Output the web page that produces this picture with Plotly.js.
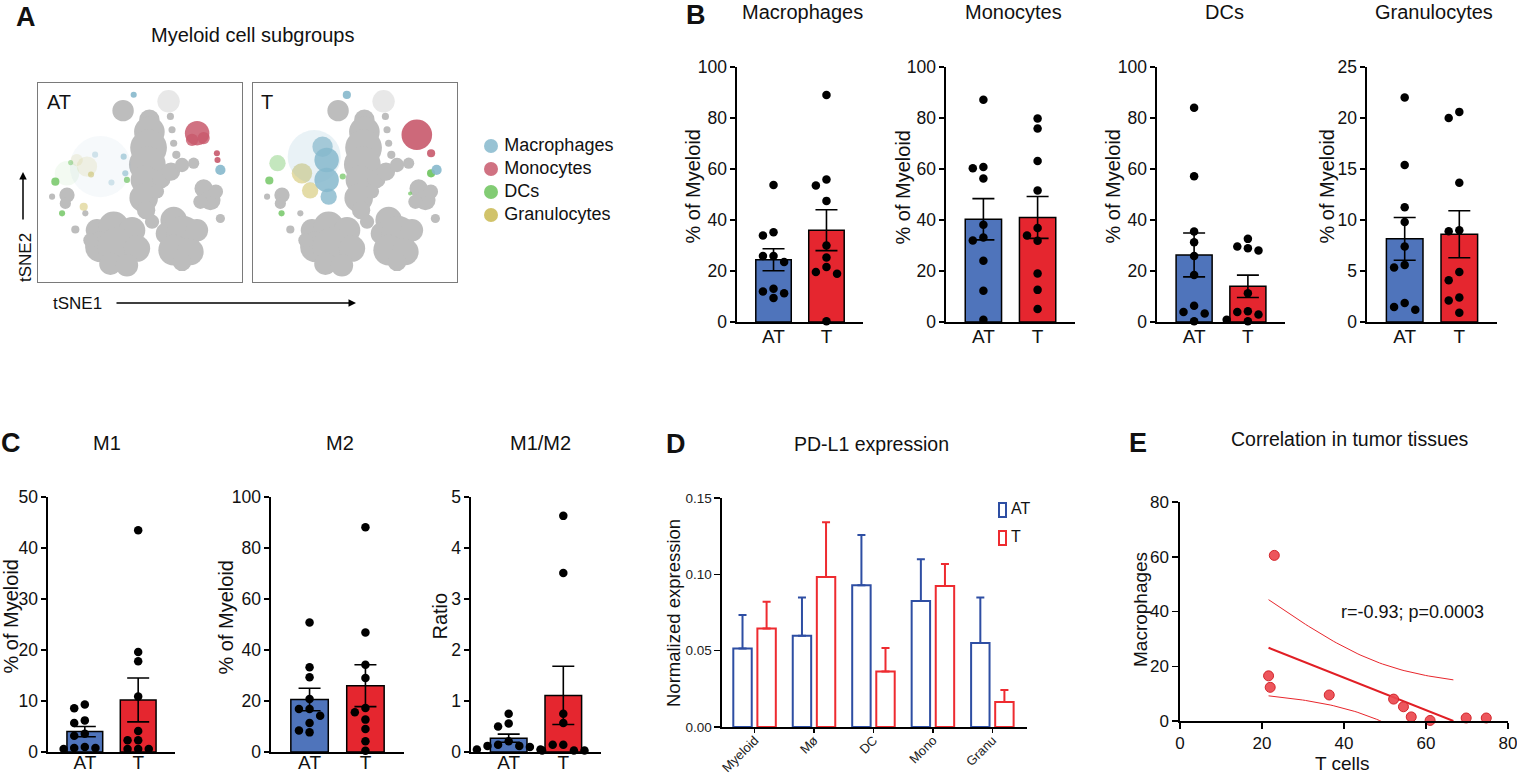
<!DOCTYPE html>
<html><head><meta charset="utf-8">
<script src="https://cdn.plot.ly/plotly-3.0.1.min.js"></script>
<style>html,body{margin:0;padding:0;background:#fff}#chart{width:1517px;height:775px}</style>
</head><body><div id="chart"></div>
<script>
// ---------------- DATA ----------------
const groups = ['AT', 'T'];
// Panel B
const macroAT = [53.7, 35.2, 33.9, 25.9, 25.9, 23.5, 13.0, 12.0, 11.3, 9.4];
const macroT = [89.0, 55.9, 53.5, 47.5, 30.0, 25.3, 21.6, 19.6, 18.9, 0.3];
const macroMean = [24.4, 36.0];
const macroSem = [4.3, 8.0];
const monoAT = [87.2, 60.8, 60.3, 56.3, 38.1, 33.1, 32.0, 24.0, 12.3, 0.9];
const monoT = [79.8, 75.9, 63.1, 51.6, 36.9, 33.9, 31.9, 19.0, 12.6, 5.1];
const monoMean = [40.3, 41.0];
const monoSem = [8.1, 8.2];
const dcAT = [84.0, 57.2, 35.5, 31.3, 25.9, 18.4, 6.4, 3.9, 3.3, 0.3];
const dcT = [32.6, 29.6, 28.9, 28.0, 11.3, 4.2, 3.9, 2.9, 0.9, 0.3];
const dcMean = [26.3, 14.0];
const dcSem = [8.6, 4.4];
const granAT = [22.0, 15.4, 11.25, 9.8, 7.4, 5.6, 5.35, 1.86, 1.47, 1.2];
const granT = [20.6, 20.0, 13.65, 9.0, 8.9, 4.9, 4.1, 2.4, 2.1, 0.9];
const granMean = [8.15, 8.6];
const granSem = [2.1, 2.3];
// Panel C
const m1AT = [9.3, 8.6, 6.2, 5.7, 3.6, 3.2, 1.0, 0.8, 0.8, 0.6];
const m1T = [43.5, 19.6, 17.8, 10.9, 4.1, 2.3, 2.3, 0.6, 0.6, 0.6];
const m1Mean = [4.0, 10.2];
const m1Sem = [1.0, 4.3];
const m2AT = [50.8, 33.2, 29.3, 20.8, 16.9, 16.9, 14.2, 11.4, 8.4, 7.7];
const m2T = [88.1, 46.9, 34.2, 29.0, 17.3, 15.6, 12.7, 9.0, 4.2, 0.5];
const m2Mean = [20.6, 26.0];
const m2Sem = [4.4, 8.2];
const ratioAT = [0.75, 0.56, 0.50, 0.21, 0.14, 0.12, 0.12, 0.10, 0.05, 0.05];
const ratioT = [4.63, 3.51, 0.75, 0.57, 0.14, 0.14, 0.03, 0.03, 0.03];
const ratioMean = [0.27, 1.11];
const ratioSem = [0.08, 0.57];
// Panel D
const pdCats = ['Myeloid', 'Mø', 'DC', 'Mono', 'Granu'];
const pdAT = [0.0515, 0.0598, 0.0928, 0.0826, 0.0550];
const pdATerr = [0.0218, 0.0250, 0.0329, 0.0272, 0.0298];
const pdT = [0.0646, 0.0983, 0.0363, 0.0924, 0.0163];
const pdTerr = [0.0174, 0.0358, 0.0154, 0.0143, 0.0080];
// Panel E
const tCells = [23.0, 21.6, 22.0, 36.4, 52.1, 54.5, 56.4, 61.0, 69.8, 74.7];
const macsE = [60.5, 16.5, 12.3, 9.5, 8.0, 5.2, 1.5, 0.2, 1.1, 1.1];
// Panel A (tSNE map, approximate islands: [tSNE1, tSNE2, diameter, density])
const subgroupNames = ['Macrophages', 'Monocytes', 'DCs', 'Granulocytes'];
const tsneGray = [
 [41.7,86.1,10.5,1],[64,90.8,11,0.35],
 [64.9,83.2,3.5,1],[65.7,76.5,3.5,1],[66.5,69.7,3.5,1],[67.8,63.9,4,1],
 [54.6,81.5,10,1],[54.6,75.5,15,1],[54.2,67.4,18,1],[53.6,59,18,1],[52.4,51.3,14,1],
 [51.8,42.2,14,1],[53.0,36.1,9,1],
 [60.5,51.8,9,1],[65.2,55.5,9,1],[70.6,58.8,7,1],[58.3,45.5,7,1],
 [76.3,59.7,5.5,1],
 [81.2,47,9,1],[84.5,41.2,10,1],[87.2,45.4,7,1],[79.6,40.3,7,1],
 [89.4,31.9,4.5,1],
 [28.9,26,11,1],[37.1,27.7,15,1],[46.1,26,13,1],[30.6,17.6,15,1],[38.7,17.6,19,1],[48.5,16.8,13,1],[35.5,9.2,11,1],[43.6,8.4,11,1],[25.7,21,7,1],
 [66.5,31.1,13,1],[63.2,24.4,11,1],[71.4,24.4,17,1],[77.9,26,11,1],[66.5,16,15,1],[74.7,15.1,13,1],[70.6,10.1,9,1],
 [55.9,30.3,7,1],
 [14.2,43.7,7.5,1],[13.4,39.5,5.5,1],[6.9,42.9,3,1],[18.3,26.4,4,1],[23.2,34.5,3,1]
];
const atMacro = [[30.6,58,30,0.08],[89.4,56.3,5,0.9],[46.9,94.1,3,0.9],[42,63,3,0.6],[42.8,54.6,3,0.6],[36,50,3,0.35],[28,64,3,0.35]];
const atMono = [[78,74.8,12,0.85],[75.5,71.4,6,0.8],[81.2,72.3,6,0.8],[87.7,64.7,3,0.9],[88,61.3,3,0.9]];
const atDC = [[14.2,54.6,12,0.08],[8.5,50.4,4,0.8],[11.8,34.5,3,0.8],[43.6,51.3,3,0.7],[16,60,2.5,0.5]];
const atGran = [[24,58,10,0.15],[22.4,37.8,4,0.45],[19,61.3,6,0.15],[26,54,3,0.5]];
const tMacro = [[30,63,26,0.18],[34.1,68,10,0.7],[36.1,61.3,12,0.85],[36.1,51.3,12,0.85],[37.1,42.9,8,0.8],[46,94,4,0.9],[90,56.3,5,0.9]];
const tMono = [[80.3,74,15,0.9],[87.3,64.7,4,0.9]];
const tDC = [[12,59.7,8,0.4],[8,51,4,0.8],[14,34.5,3,0.8],[87.3,54.6,4,0.9],[44,53,3,0.7],[77,44.5,2,0.7]];
const tGran = [[24,54.6,10,0.5],[28,46,8,0.5]];

// ---------------- STYLE / LAYOUT ----------------
const W = 1517, H = 775;
const fx = p => p / W, fy = p => 1 - p / H;
const FONT = 'Liberation Sans, Arial, Helvetica, sans-serif';
const barColors = ['#4f74bb', '#e5262f'];
const subColors = ['#86b8cc', '#c8596c', '#6cc35c', '#c9b950'];
const grayC = '#bdbdbd';
const blueD = '#2e4ea3', redD = '#ee2b30';

const traces = [];
const layout = {
  width: W, height: H, margin: {l: 0, r: 0, t: 0, b: 0},
  paper_bgcolor: '#fff', plot_bgcolor: 'rgba(0,0,0,0)',
  showlegend: false, barmode: 'overlay',
  font: {family: FONT, color: '#111'},
  annotations: []
};
function ann(text, x, y, size, opts) {
  layout.annotations.push(Object.assign({
    text: text, x: fx(x), y: fy(y), xref: 'paper', yref: 'paper',
    showarrow: false, xanchor: 'center', yanchor: 'middle',
    font: {family: FONT, size: size, color: '#111'}
  }, opts || {}));
}

// ---------- Panel A ----------
function tsneBox(n, x0, x1, sets, colors) {
  const xk = 'xaxis' + n, yk = 'yaxis' + n, xa = 'x' + n, ya = 'y' + n;
  layout[xk] = {domain: [fx(x0), fx(x1)], range: [0, 100], showline: true, mirror: true,
    linecolor: '#7a7a7a', linewidth: 1.2, showticklabels: false, ticks: '', showgrid: false, zeroline: false, anchor: ya, fixedrange: true};
  layout[yk] = {domain: [fy(282), fy(83)], range: [0, 100], showline: true, mirror: true,
    linecolor: '#7a7a7a', linewidth: 1.2, showticklabels: false, ticks: '', showgrid: false, zeroline: false, anchor: xa, fixedrange: true};
  const pxPerUnit = (x1 - x0) / 100;
  sets.forEach((s, k) => {
    traces.push({type: 'scatter', mode: 'markers', xaxis: xa, yaxis: ya, hoverinfo: 'skip',
      x: s.map(p => p[0]), y: s.map(p => p[1]),
      marker: {size: s.map(p => p[2] * pxPerUnit), opacity: s.map(p => p[3]), color: colors[k], line: {width: 0}}});
  });
}
tsneBox('', 38, 242, [tsneGray, atGran, atDC, atMacro, atMono], [grayC, subColors[3], subColors[2], subColors[0], subColors[1]]);
tsneBox(2, 253, 457, [tsneGray, tGran, tDC, tMacro, tMono], [grayC, subColors[3], subColors[2], subColors[0], subColors[1]]);

// A legend
layout.xaxis3 = {domain: [fx(481), fx(641)], range: [-10, 150], visible: false, anchor: 'y3', fixedrange: true};
layout.yaxis3 = {domain: [fy(226.5), fy(134.5)], range: [3.5, -0.5], visible: false, anchor: 'x3', fixedrange: true};
traces.push({type: 'scatter', mode: 'markers+text', xaxis: 'x3', yaxis: 'y3', hoverinfo: 'skip',
  x: subgroupNames.map(() => 0), y: subgroupNames.map((_, i) => i),
  text: subgroupNames.map(s => '\u2009' + s), textposition: 'middle right',
  textfont: {family: FONT, size: 18, color: '#111'},
  marker: {size: 14, color: subColors, opacity: 0.85}, cliponaxis: false});

ann('<b>A</b>', 26, 17, 27);
ann('Myeloid cell subgroups', 253, 35, 20);
ann('AT', 59, 102, 20);
ann('T', 267, 102, 20);
ann('tSNE2', 25, 258, 17, {textangle: -90});
ann('tSNE1', 77, 303, 17);
layout.annotations.push({text: '', x: fx(23), y: fy(172), xref: 'paper', yref: 'paper', ax: 0, ay: 49,
  showarrow: true, arrowhead: 2, arrowsize: 1, arrowwidth: 1.5, arrowcolor: '#000'});
layout.annotations.push({text: '', x: fx(356), y: fy(303), xref: 'paper', yref: 'paper', ax: -241, ay: 0,
  showarrow: true, arrowhead: 2, arrowsize: 1, arrowwidth: 1.5, arrowcolor: '#000'});

// ---------- Bar + dot panels (B, C) ----------
const XR = [-0.69, 1.69];
function swarm(vals, center, uPxX, uPxY, dot, step) {
  const order = vals.map((v, i) => i).sort((a, b) => vals[b] - vals[a]);
  const placed = [], xs = new Array(vals.length);
  const cands = [0, -1, 1, -2, 2, -3, 3];
  order.forEach(i => {
    const ypx = vals[i] * uPxY;
    for (const k of cands) {
      const xpx = k * step;
      if (placed.every(p => Math.hypot(p[0] - xpx, p[1] - ypx) >= dot)) {
        placed.push([xpx, ypx]); xs[i] = center + xpx / uPxX; break;
      }
    }
  });
  return xs;
}
function barPanel(n, x0, x1, y0, y1, ymax, dtick, atVals, tVals, mean, sem, title, ytitle, ytx, standoff) {
  const xa = 'x' + n, ya = 'y' + n;
  layout['xaxis' + n] = {domain: [fx(x0), fx(x1)], range: XR, tickvals: [0, 1], ticktext: groups,
    showline: true, linecolor: '#000', linewidth: 1.6, ticks: '', showgrid: false, zeroline: false,
    ticklabelstandoff: standoff,
    tickfont: {family: FONT, size: 19, color: '#111'}, anchor: ya, fixedrange: true};
  layout['yaxis' + n] = {domain: [fy(y1), fy(y0)], range: [0, ymax], dtick: dtick, tick0: 0,
    showline: true, linecolor: '#000', linewidth: 1.6, ticks: 'outside', ticklen: 5, tickwidth: 1.6, tickcolor: '#000',
    showgrid: false, zeroline: false, tickfont: {family: FONT, size: 17.5, color: '#111'}, anchor: xa, fixedrange: true};
  traces.push({type: 'bar', xaxis: xa, yaxis: ya, x: [0, 1], y: mean, width: 0.67, hoverinfo: 'skip',
    marker: {color: barColors, line: {color: '#000', width: 1.5}},
    error_y: {type: 'data', array: sem, visible: true, color: '#000', thickness: 1.6, width: 11}});
  const uPxX = (x1 - x0) / (XR[1] - XR[0]), uPxY = (y1 - y0) / ymax;
  const xsAT = swarm(atVals, 0, uPxX, uPxY, 8.6, 10.6);
  const xsT = swarm(tVals, 1, uPxX, uPxY, 8.6, 10.6);
  traces.push({type: 'scatter', mode: 'markers', xaxis: xa, yaxis: ya, hoverinfo: 'skip', cliponaxis: false,
    x: xsAT.concat(xsT), y: atVals.concat(tVals), marker: {color: '#000', size: 8.5, line: {width: 0}}});
  ann(title.text, title.x, title.y, 20);
  ann(ytitle, ytx, (y0 + y1) / 2 - 8, 20, {textangle: -90});
}
barPanel(4, 737, 863, 67, 322, 100, 20, macroAT, macroT, macroMean, macroSem, {text: 'Macrophages', x: 802, y: 12}, '% of Myeloid', 693, -3);
barPanel(5, 946, 1075, 67, 322, 100, 20, monoAT, monoT, monoMean, monoSem, {text: 'Monocytes', x: 1013, y: 12}, '% of Myeloid', 903, -3);
barPanel(6, 1157, 1285, 67, 322, 100, 20, dcAT, dcT, dcMean, dcSem, {text: 'DCs', x: 1224, y: 12}, '% of Myeloid', 1113, -3);
barPanel(7, 1367, 1497, 67, 322, 25, 5, granAT, granT, granMean, granSem, {text: 'Granulocytes', x: 1434, y: 12}, '% of Myeloid', 1327, -3);
ann('<b>B</b>', 696, 15, 27);

barPanel(8, 48, 175, 497, 752, 50, 10, m1AT, m1T, m1Mean, m1Sem, {text: 'M1', x: 107, y: 443}, '% of Myeloid', 10, -7);
barPanel(9, 271, 404, 497, 752, 100, 20, m2AT, m2T, m2Mean, m2Sem, {text: 'M2', x: 340, y: 443}, '% of Myeloid', 225, -7);
barPanel(10, 471, 601, 497, 752, 5, 1, ratioAT, ratioT, ratioMean, ratioSem, {text: 'M1/M2', x: 540, y: 443}, 'Ratio', 439, -7);
ann('<b>C</b>', 11, 443, 27);

// ---------- Panel D ----------
layout.xaxis11 = {domain: [fx(722), fx(1027)], range: [-0.55, 4.58], tickvals: pdCats.map((_, i) => i), ticktext: pdCats,
  tickangle: -45, showline: true, linecolor: '#000', linewidth: 1.6, ticks: 'outside', ticklen: 4, tickwidth: 1.4, tickcolor: '#000',
  ticklabelstandoff: -5,
  showgrid: false, zeroline: false, tickfont: {family: FONT, size: 13, color: '#222'}, anchor: 'y11', fixedrange: true};
layout.yaxis11 = {domain: [fy(727), fy(498)], range: [0, 0.15], dtick: 0.05, tick0: 0, tickformat: '.2f',
  showline: true, linecolor: '#000', linewidth: 1.6, ticks: 'outside', ticklen: 6, tickwidth: 1.4, tickcolor: '#000',
  showgrid: false, zeroline: false, tickfont: {family: FONT, size: 13.5, color: '#222'}, anchor: 'x11', fixedrange: true};
traces.push({type: 'bar', xaxis: 'x11', yaxis: 'y11', x: pdCats.map((_, i) => i), y: pdAT, width: 0.31, offset: -0.36, hoverinfo: 'skip',
  marker: {color: 'rgba(255,255,255,0)', line: {color: blueD, width: 2}},
  error_y: {type: 'data', symmetric: false, array: pdATerr, arrayminus: pdATerr.map(() => 0), color: blueD, thickness: 2, width: 4}});
traces.push({type: 'bar', xaxis: 'x11', yaxis: 'y11', x: pdCats.map((_, i) => i), y: pdT, width: 0.31, offset: 0.045, hoverinfo: 'skip',
  marker: {color: 'rgba(255,255,255,0)', line: {color: redD, width: 2}},
  error_y: {type: 'data', symmetric: false, array: pdTerr, arrayminus: pdTerr.map(() => 0), color: redD, thickness: 2, width: 4}});
// D legend (outlined keys + labels)
layout.xaxis12 = {domain: [fx(993), fx(1063)], range: [-10, 60], visible: false, anchor: 'y12', fixedrange: true};
layout.yaxis12 = {domain: [fy(552), fy(496)], range: [1.5, -0.5], visible: false, anchor: 'x12', fixedrange: true};
traces.push({type: 'bar', orientation: 'h', xaxis: 'x12', yaxis: 'y12', hoverinfo: 'skip',
  y: groups.map((_, i) => i), x: groups.map(() => 7), base: -4, width: 0.5,
  marker: {color: 'rgba(255,255,255,0)', line: {color: [blueD, redD], width: 2}}});
traces.push({type: 'scatter', mode: 'text', xaxis: 'x12', yaxis: 'y12', hoverinfo: 'skip', cliponaxis: false,
  x: groups.map(() => 8), y: groups.map((_, i) => i), text: groups, textposition: 'middle right',
  textfont: {family: FONT, size: 16, color: '#111'}});
ann('<b>D</b>', 676, 444, 27);
ann('PD-L1 expression', 871, 444, 19.5);
ann('Normalized expression', 673, 613, 18.5, {textangle: -90});

// ---------- Panel E ----------
layout.xaxis13 = {domain: [fx(1180), fx(1508)], range: [0, 80], dtick: 20, tick0: 0, ticklabeloverflow: 'allow',
  showline: true, linecolor: '#000', linewidth: 1.6, ticks: 'outside', ticklen: 6, tickwidth: 1.5, tickcolor: '#000',
  showgrid: false, zeroline: false, tickfont: {family: FONT, size: 17, color: '#111'}, anchor: 'y13', fixedrange: true};
layout.yaxis13 = {domain: [fy(721), fy(502)], range: [0, 80], dtick: 20, tick0: 0,
  showline: true, linecolor: '#000', linewidth: 1.6, ticks: 'outside', ticklen: 6, tickwidth: 1.5, tickcolor: '#000',
  showgrid: false, zeroline: false, tickfont: {family: FONT, size: 17, color: '#111'}, anchor: 'x13', fixedrange: true};
// linear fit with 95% confidence band computed from the data
(function () {
  const n = tCells.length;
  const mx = tCells.reduce((a, b) => a + b, 0) / n, my = macsE.reduce((a, b) => a + b, 0) / n;
  let sxx = 0, sxy = 0;
  for (let i = 0; i < n; i++) { sxx += (tCells[i] - mx) ** 2; sxy += (tCells[i] - mx) * (macsE[i] - my); }
  const b = sxy / sxx, a = my - b * mx;
  let sse = 0;
  for (let i = 0; i < n; i++) sse += (macsE[i] - (a + b * tCells[i])) ** 2;
  const s = Math.sqrt(sse / (n - 2)), tcrit = 2.306;
  const xmin = Math.min(...tCells), xend = -a / b;
  const xs = [], fit = [], up = [], lo = [];
  for (let k = 0; k <= 60; k++) {
    const x = xmin + (xend - xmin) * k / 60;
    const yhat = a + b * x, se = s * Math.sqrt(1 / n + (x - mx) ** 2 / sxx);
    xs.push(x); fit.push(yhat); up.push(yhat + tcrit * se); lo.push(yhat - tcrit * se);
  }
  traces.push({type: 'scatter', mode: 'lines', xaxis: 'x13', yaxis: 'y13', x: xs, y: up, line: {color: '#e8262c', width: 1}, hoverinfo: 'skip'});
  traces.push({type: 'scatter', mode: 'lines', xaxis: 'x13', yaxis: 'y13', x: xs, y: lo, line: {color: '#e8262c', width: 1}, hoverinfo: 'skip'});
  traces.push({type: 'scatter', mode: 'lines', xaxis: 'x13', yaxis: 'y13', x: xs, y: fit, line: {color: '#e11f25', width: 2}, hoverinfo: 'skip'});
})();
traces.push({type: 'scatter', mode: 'markers', xaxis: 'x13', yaxis: 'y13', x: tCells, y: macsE, hoverinfo: 'skip', cliponaxis: false,
  marker: {size: 10, color: 'rgba(236,72,78,0.92)', line: {color: '#d3262c', width: 1}}});
ann('<b>E</b>', 1138, 443, 27);
ann('Correlation in tumor tissues', 1350, 439, 19.5);
ann('Macrophages', 1140, 610, 19, {textangle: -90});
ann('T cells', 1342, 763, 19);
ann('r=-0.93; p=0.0003', 1412, 612, 18);

Plotly.newPlot('chart', traces, layout, {staticPlot: true, displayModeBar: false});
</script>
</body></html>
